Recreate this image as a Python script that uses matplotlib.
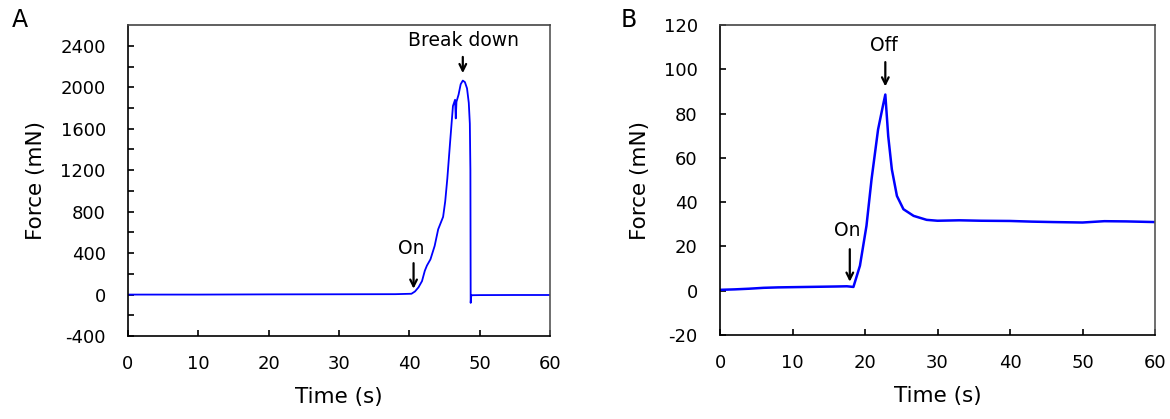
import numpy as np
import matplotlib
matplotlib.use("Agg")
import matplotlib.pyplot as plt

plt.rcParams['font.family'] = ['DejaVu Sans']
plt.rcParams['axes.unicode_minus'] = False

# panel A: force vs time, break down test
tA = [0, 5, 10, 20, 30, 38, 40.3, 40.8, 41.3, 41.8, 42.2, 42.5, 43.0, 43.6, 44.1, 44.8,
      45.1, 45.4, 45.8, 46.2, 46.5, 46.6, 46.7, 47.0, 47.3, 47.6, 47.9, 48.2, 48.45,
      48.6, 48.68, 48.72, 48.8, 48.9, 50, 55, 60]
fA = [0, 0, 0, 2, 3, 4, 8, 30, 70, 130, 230, 280, 340, 470, 630, 750,
      900, 1120, 1475, 1820, 1880, 1700, 1860, 1930, 2030, 2065, 2050, 1990, 1850,
      1650, 1200, -80, -10, -6, -5, -4, -4]

# panel B: force vs time, on/off test
tB = [0, 2, 4, 6, 8, 10, 12, 14, 16, 17.5, 18.4, 19.3, 20.2, 20.9, 21.8, 22.5, 22.8,
      23.2, 23.7, 24.4, 25.3, 26.7, 28.5, 30, 33, 36, 40, 43, 46, 50, 53, 56, 60]
fB = [0.4, 0.6, 0.9, 1.3, 1.5, 1.6, 1.7, 1.8, 1.9, 2.0, 1.7, 11.3, 29.3, 50.3, 72.8, 84, 88.6,
      69.8, 54.8, 42.8, 36.8, 33.8, 32.0, 31.6, 31.8, 31.6, 31.5, 31.2, 31.0, 30.8, 31.4, 31.3, 31.0]

xticks = [0, 10, 20, 30, 40, 50, 60]
yticksA = [-400, 0, 400, 800, 1200, 1600, 2000, 2400]
yticksB = [-20, 0, 20, 40, 60, 80, 100, 120]

fig = plt.figure(figsize=(11.7, 4.19), dpi=100)
axA = fig.add_axes([0.1094, 0.198, 0.3607, 0.742])
axB = fig.add_axes([0.6154, 0.2005, 0.3718, 0.7398])

axA.plot(tA, fA, color='#0000ff', lw=1.3)
axB.plot(tB, fB, color='#0000ff', lw=1.8)

axA.set_ylim(-400, 2600)
axA.set_yticks(yticksA)
axA.set_yticks(np.arange(-200, 2600, 400), minor=True)
axB.set_ylim(-20, 120)
axB.set_yticks(yticksB)

for ax in (axA, axB):
    ax.set_xlim(0, 60)
    ax.set_xticks(xticks)
    ax.tick_params(direction='in', length=4, width=1.2, labelsize=13, pad=14)
    ax.tick_params(which='minor', direction='in', length=4, width=1.2)
    ax.tick_params(axis='y', pad=16)
    ax.set_xlabel('Time (s)', fontsize=15.5, labelpad=10)
    ax.set_ylabel('Force (mN)', fontsize=15.5, labelpad=10)
    for s in ax.spines.values():
        s.set_linewidth(1.2)
    ax.spines['top'].set_color('#444444')
    ax.spines['right'].set_color('#555555')

arr = dict(arrowstyle='->', color='black', lw=1.6, mutation_scale=12)
axA.annotate('', xy=(40.6, 30), xytext=(40.6, 330), arrowprops=arr)
axA.text(40.2, 440, 'On', ha='center', va='center', fontsize=13.5)
axA.annotate('', xy=(47.6, 2110), xytext=(47.6, 2320), arrowprops=arr)
axA.text(47.7, 2450, 'Break down', ha='center', va='center', fontsize=13.5)

axB.annotate('', xy=(17.9, 2.8), xytext=(17.9, 20), arrowprops=arr)
axB.text(17.5, 27, 'On', ha='center', va='center', fontsize=13.5)
axB.annotate('', xy=(22.8, 91), xytext=(22.8, 104.5), arrowprops=arr)
axB.text(22.6, 110.7, 'Off', ha='center', va='center', fontsize=13.5)

fig.text(12 / 1170, 1 - 20 / 419, 'A', fontsize=17, va='center')
fig.text(621 / 1170, 1 - 20 / 419, 'B', fontsize=17, va='center')

fig.savefig('out.png', dpi=100)
